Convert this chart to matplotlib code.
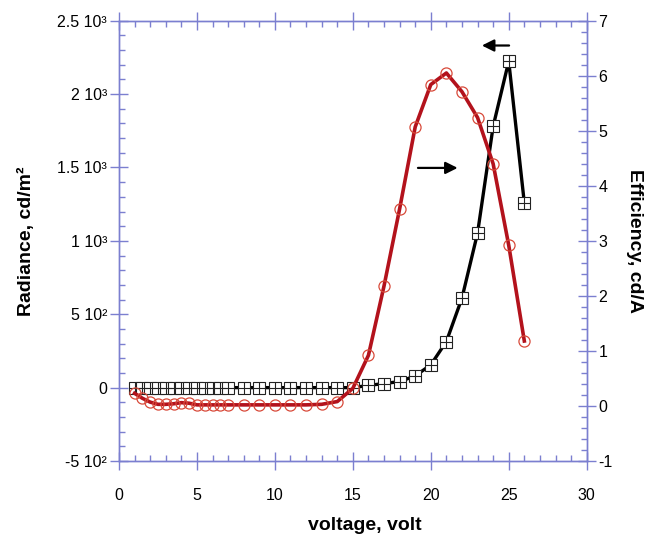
import numpy as np
from matplotlib import pyplot as plt
from matplotlib.ticker import MultipleLocator, FixedLocator, FixedFormatter

plt.rcParams['font.family'] = ['Liberation Sans', 'DejaVu Sans']
plt.rcParams['axes.unicode_minus'] = False

# voltage points (dense below 7 V)
volt = [1, 1.5, 2, 2.5, 3, 3.5, 4, 4.5, 5, 5.5, 6, 6.5, 7,
        8, 9, 10, 11, 12, 13, 14, 15, 16, 17, 18, 19, 20, 21, 22, 23, 24, 25, 26]

radiance = [0, 0, 0, 0, 0, 0, 0, 0, 0, 0, 0, 0, 0,
            0, 0, 0, 0, 0, 0, 0, 0, 15, 28, 41, 80, 155, 314, 610, 1053, 1780, 2224, 1258]

efficiency = [0.23, 0.14, 0.07, 0.03, 0.03, 0.04, 0.06, 0.05, 0.02, 0.02, 0.02, 0.02, 0.02,
              0.02, 0.02, 0.02, 0.02, 0.02, 0.03, 0.08, 0.32, 0.92, 2.18, 3.58, 5.07, 5.84,
              6.05, 5.71, 5.24, 4.40, 2.92, 1.18]

left_ticks = [-500, 0, 500, 1000, 1500, 2000, 2500]
left_labels = ['-5 10²', '0', '5 10²', '1 10³', '1.5 10³', '2 10³', '2.5 10³']

axcol = '#7b7fd0'

fig = plt.figure(figsize=(6.51, 5.35), dpi=100)
ax = fig.add_axes([0.1828, 0.1383, 0.7184, 0.8230])
ax2 = ax.twinx()

ax.plot(volt, radiance, color='black', lw=2.4, zorder=2)
ax.plot(volt, radiance, ls='none', marker='s', ms=8.5, mfc='white', mec='#222222', mew=0.8, zorder=3)
ax.plot(volt, radiance, ls='none', marker='+', ms=8.5, mec='#222222', mew=0.8, zorder=4)

ax2.plot(volt, efficiency, color='#b3121c', lw=2.6, zorder=2)
ax2.plot(volt, efficiency, ls='none', marker='o', ms=8, mfc='none', mec='#d84a3a', mew=0.9, zorder=3)

ax.set_xlim(0, 30)
ax.set_ylim(-500, 2500)
ax2.set_ylim(-1, 7)

ax.yaxis.set_major_locator(FixedLocator(left_ticks))
ax.yaxis.set_major_formatter(FixedFormatter(left_labels))
ax.yaxis.set_minor_locator(MultipleLocator(100))
ax.xaxis.set_major_locator(MultipleLocator(5))
ax.xaxis.set_minor_locator(MultipleLocator(1))
ax2.yaxis.set_major_locator(MultipleLocator(1))
ax2.yaxis.set_minor_locator(MultipleLocator(0.2))

ax.tick_params(which='major', direction='inout', length=13, width=1, color=axcol,
               labelsize=11.5, top=True, right=False)
ax.tick_params(which='minor', direction='in', length=4, width=1, color=axcol, top=True, right=False)
ax.tick_params(axis='x', which='major', pad=13)
ax.tick_params(axis='y', which='major', pad=2)
ax2.tick_params(which='major', direction='inout', length=13, width=1, color=axcol,
                labelsize=11.5, pad=2)
ax2.tick_params(which='minor', direction='in', length=4, width=1, color=axcol)

for a in (ax, ax2):
    for s in a.spines.values():
        s.set_color(axcol)
        s.set_linewidth(1)

ax.set_ylabel('Radiance, cd/m²', fontsize=14, fontweight='bold', labelpad=16)
ax2.set_ylabel('Efficiency, cd/A', fontsize=14, fontweight='bold', rotation=-90, labelpad=22)
fig.text(365 / 651, 0.5 / 535, 'voltage, volt', fontsize=14, fontweight='bold',
         ha='center', va='bottom')

ax.annotate('', xy=(23.1, 2331), xytext=(25.2, 2331),
            arrowprops=dict(arrowstyle='-|>', color='black', lw=1.6, mutation_scale=18))
ax.annotate('', xy=(21.9, 1497), xytext=(19.0, 1497),
            arrowprops=dict(arrowstyle='-|>', color='black', lw=1.6, mutation_scale=18))

fig.savefig('out.png', dpi=100)
